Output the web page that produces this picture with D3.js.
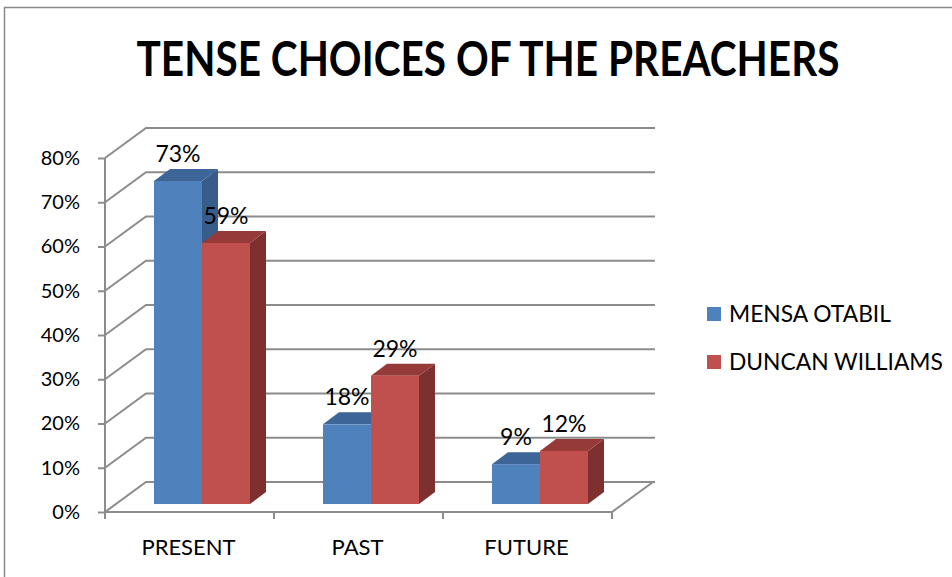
<!DOCTYPE html>
<html><head><meta charset="utf-8">
<script src="https://cdn.jsdelivr.net/npm/d3@7"></script>
<style>body{margin:0;background:#fff}svg{display:block}text{font-family:Lato,"Open Sans",sans-serif;fill:#000}</style>
</head><body>
<script>
const categories = ["PRESENT", "PAST", "FUTURE"];
const seriesNames = ["MENSA OTABIL", "DUNCAN WILLIAMS"];
const mensaOtabil = [73, 18, 9];
const duncanWilliams = [59, 29, 12];
const yTicks = [0, 10, 20, 30, 40, 50, 60, 70, 80];
const title = "TENSE CHOICES OF THE PREACHERS";

const W = 952, H = 577;
const svg = d3.select("body").append("svg").attr("width", W).attr("height", H);

// chart frame
svg.append("rect").attr("x", 4.5).attr("y", 7.5).attr("width", 1000).attr("height", 1000)
  .attr("fill", "none").attr("stroke", "#8a8a8a").attr("stroke-width", 1.5);

// scales
const x = d3.scaleBand().domain(categories).range([105, 612]);
const y = d3.scaleLinear().domain([0, 80]).range([512, 158]);
const inner = d3.scaleBand().domain(seriesNames).range([0, 96]);
const wall = {dx: 41, dy: -30};
const plane = {dx: 12.5, dy: -8};
const depth = {dx: 16, dy: -12};
const grid = "#8c8c8c";

const g = svg.append("g");
// back wall gridlines and left wall diagonals
yTicks.forEach(t => {
  const yf = y(t);
  g.append("path").attr("d", `M105,${yf}L${105 + wall.dx},${yf + wall.dy}L${655},${yf + wall.dy}`)
    .attr("fill", "none").attr("stroke", grid).attr("stroke-width", 2);
});
// floor front + right edge
g.append("path").attr("d", `M105,${y(0)}L612,${y(0)}L${612 + wall.dx},${y(0) + wall.dy}`)
  .attr("fill", "none").attr("stroke", grid).attr("stroke-width", 2);
// front vertical axis
g.append("line").attr("x1", 105).attr("x2", 105).attr("y1", y(80)).attr("y2", y(0))
  .attr("stroke", grid).attr("stroke-width", 2);

// y axis labels with ticks
const yAxis = d3.axisLeft(y).tickValues(yTicks).tickSize(7).tickPadding(18).tickFormat(d => d + "%");
const ya = svg.append("g").attr("transform", "translate(105,0)").call(yAxis);
ya.select(".domain").remove();
ya.selectAll("line").attr("stroke", grid).attr("stroke-width", 2);
ya.selectAll("text").attr("font-size", 20).attr("font-family", "Lato").attr("fill", "#000");

// x axis ticks
const xTickPos = categories.map(c => x(c)).concat([612]);
xTickPos.forEach(p => g.append("line").attr("x1", p).attr("x2", p).attr("y1", y(0)).attr("y2", y(0) + 7)
  .attr("stroke", grid).attr("stroke-width", 2));
categories.forEach(c => svg.append("text").attr("x", x(c) + x.bandwidth() / 2 - 1).attr("y", 555)
  .attr("text-anchor", "middle").attr("font-size", 22).text(c));

// bars
const colors = {
  "MENSA OTABIL": {front: "#4f81bd", top: "#3e6597", side: "#385d8a"},
  "DUNCAN WILLIAMS": {front: "#c0504d", top: "#953a38", side: "#7d302e"}
};
const data = [];
categories.forEach((c, i) => {
  data.push({cat: c, s: seriesNames[0], v: mensaOtabil[i]});
  data.push({cat: c, s: seriesNames[1], v: duncanWilliams[i]});
});
const bw = inner.bandwidth();
const bars = svg.append("g");
data.forEach(d => {
  const x0 = x(d.cat) + (x.bandwidth() - 96) / 2 + plane.dx + inner(d.s);
  const yb = y(0) + plane.dy;
  const yt = y(d.v) + plane.dy;
  const col = colors[d.s];
  // side
  bars.append("path").attr("d", `M${x0 + bw},${yt}L${x0 + bw + depth.dx},${yt + depth.dy}L${x0 + bw + depth.dx},${yb + depth.dy}L${x0 + bw},${yb}Z`)
    .attr("fill", col.side);
  // top
  bars.append("path").attr("d", `M${x0},${yt}L${x0 + depth.dx},${yt + depth.dy}L${x0 + bw + depth.dx},${yt + depth.dy}L${x0 + bw},${yt}Z`)
    .attr("fill", col.top);
  // front
  bars.append("rect").attr("x", x0).attr("y", yt).attr("width", bw).attr("height", yb - yt).attr("fill", col.front);
  d.lx = x0 + bw / 2; d.ly = yt + depth.dy - 7;
});
// labels
data.forEach(d => svg.append("text").attr("x", d.lx).attr("y", d.ly).attr("text-anchor", "middle")
  .attr("font-size", 23).text(d.v + "%"));

// title
svg.append("text").attr("x", 488).attr("y", 76).attr("text-anchor", "middle")
  .attr("font-size", 47).attr("font-weight", "bold").attr("textLength", 703).attr("lengthAdjust", "spacingAndGlyphs").text(title);

// legend
const leg = svg.append("g");
seriesNames.forEach((s, i) => {
  const ly = 307 + i * 48;
  leg.append("rect").attr("x", 707).attr("y", ly).attr("width", 14).attr("height", 14).attr("fill", colors[s].front);
  leg.append("text").attr("x", 729).attr("y", ly + 14.5).attr("font-size", 22.8).text(s);
});
</script>
</body></html>
